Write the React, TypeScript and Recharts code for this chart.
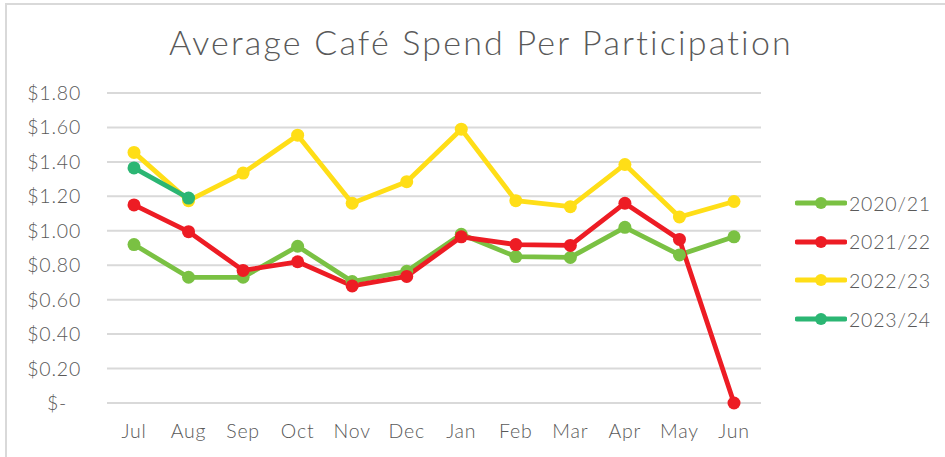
import React from 'react';
import { LineChart, Line, XAxis, YAxis, CartesianGrid } from 'recharts';

const months = ['Jul', 'Aug', 'Sep', 'Oct', 'Nov', 'Dec', 'Jan', 'Feb', 'Mar', 'Apr', 'May', 'Jun'];
const s2020 = [0.92, 0.73, 0.73, 0.91, 0.705, 0.765, 0.98, 0.85, 0.845, 1.02, 0.86, 0.965];
const s2021 = [1.15, 0.995, 0.77, 0.82, 0.68, 0.735, 0.965, 0.92, 0.915, 1.16, 0.95, 0];
const s2022 = [1.455, 1.175, 1.335, 1.555, 1.16, 1.285, 1.59, 1.175, 1.14, 1.385, 1.08, 1.17];
const s2023: (number | null)[] = [1.365, 1.19, null, null, null, null, null, null, null, null, null, null];
const yTicks = [0, 0.2, 0.4, 0.6, 0.8, 1.0, 1.2, 1.4, 1.6, 1.8];

const seriesDefs = [
  { key: 'y2020', name: '2020/21', color: '#7AC143', values: s2020 },
  { key: 'y2021', name: '2021/22', color: '#ED1C24', values: s2021 },
  { key: 'y2022', name: '2022/23', color: '#FFDE17', values: s2022 },
  { key: 'y2023', name: '2023/24', color: '#2BB673', values: s2023 },
];

const data = months.map((m, i) => {
  const row: any = { month: m };
  seriesDefs.forEach((s) => {
    row[s.key] = s.values[i];
  });
  return row;
});

const FONT = "'Lato', 'DejaVu Sans', sans-serif";
const TEXT = '#595959';

const YTick = (props: any) => {
  const { x, y, payload } = props;
  const v = payload.value as number;
  const label = v === 0 ? '$-' : '$' + v.toFixed(2);
  return (
    <text x={v === 0 ? x - 14 : x} y={y} dy={7} textAnchor="end" fill={TEXT} fontSize={19.5} fontFamily={FONT} fontWeight={300} letterSpacing={0.8}>
      {label}
    </text>
  );
};

const XTick = (props: any) => {
  const { x, y, payload } = props;
  return (
    <text x={x} y={y} dy={20} textAnchor="middle" fill={TEXT} fontSize={19.5} fontFamily={FONT} fontWeight={300} letterSpacing={0.8}>
      {payload.value}
    </text>
  );
};

export default function App() {
  return (
    <div style={{ position: 'absolute', left: 0, top: 0, width: 945, height: 457, background: '#fff', overflow: 'hidden' }}>
      <div style={{ position: 'absolute', left: 5, top: 3, right: -10, bottom: -10, borderLeft: '2px solid #d9d9d9', borderTop: '2px solid #d9d9d9' }} />
      <div style={{ position: 'absolute', left: 0, width: 962, top: 20, textAlign: 'center', fontFamily: FONT, fontSize: 34, fontWeight: 300, letterSpacing: 2.2, color: TEXT, lineHeight: '44px' }}>
        Average Café Spend Per Participation
      </div>
      <div style={{ position: 'absolute', left: 0, top: 0 }}>
        <LineChart width={945} height={457} data={data} margin={{ top: 93, right: 184, left: 0, bottom: 24 }}>
          <CartesianGrid vertical={false} stroke="#d9d9d9" strokeWidth={2} />
          <XAxis
            dataKey="month"
            height={30}
            padding={{ left: 27, right: 27 }}
            axisLine={{ stroke: '#d9d9d9', strokeWidth: 2 }}
            tickLine={false}
            tickSize={0}
            tickMargin={15}
            tick={<XTick />}
            interval={0}
          />
          <YAxis
            width={107}
            domain={[0, 1.8]}
            ticks={yTicks}
            axisLine={false}
            tickLine={false}
            tickSize={0}
            tickMargin={26}
            tick={<YTick />}
            interval={0}
          />
          {seriesDefs.map((s) => (
            <Line
              key={s.key}
              dataKey={s.key}
              name={s.name}
              stroke={s.color}
              strokeWidth={4.8}
              dot={{ r: 6.5, fill: s.color, stroke: s.color, strokeWidth: 0 }}
              activeDot={false}
              isAnimationActive={false}
              connectNulls={false}
              strokeLinejoin="round"
            />
          ))}
        </LineChart>
      </div>
      {seriesDefs.map((s, i) => (
        <div key={s.key} style={{ position: 'absolute', left: 795, top: 203 - 13 + i * 38.7, height: 26, display: 'flex', alignItems: 'center' }}>
          <svg width={52} height={26}>
            <line x1={2} y1={13} x2={50} y2={13} stroke={s.color} strokeWidth={4.8} strokeLinecap="round" />
            <circle cx={26} cy={13} r={6} fill={s.color} />
          </svg>
          <span style={{ fontFamily: FONT, fontSize: 19.5, fontWeight: 300, letterSpacing: 0.8, color: TEXT, marginLeft: 2 }}>{s.name}</span>
        </div>
      ))}
    </div>
  );
}
